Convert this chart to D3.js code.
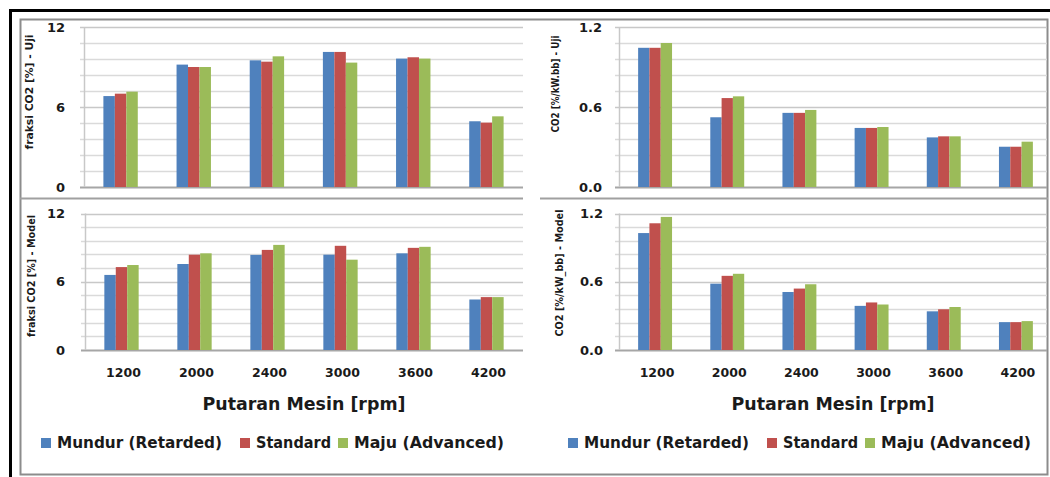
<!DOCTYPE html>
<html>
<head>
<meta charset="utf-8">
<title>CO2 - Putaran Mesin</title>
<script src="https://d3js.org/d3.v7.min.js"></script>
<style>
  body { margin: 0; background: #fff; }
  text { font-family: "DejaVu Sans", sans-serif; font-weight: bold; fill: #1a1a1a; }
</style>
</head>
<body>
<div id="chart"></div>
<script>
// categories + series
var rpm = ["1200", "2000", "2400", "3000", "3600", "4200"];
var seriesNames = ["Mundur (Retarded)", "Standard", "Maju (Advanced)"];
var seriesColors = ["#4f81bd", "#c0504d", "#9bbb59"];

// fraksi CO2 [%] - Uji
var fraksiUjiMundur   = [6.82, 9.18, 9.5, 10.13, 9.63, 4.93];
var fraksiUjiStandard = [7.0, 9.0, 9.4, 10.13, 9.73, 4.83];
var fraksiUjiMaju     = [7.15, 9.0, 9.8, 9.33, 9.63, 5.3];
// fraksi CO2 [%] - Model
var fraksiModelMundur   = [6.6, 7.56, 8.36, 8.38, 8.5, 4.44];
var fraksiModelStandard = [7.29, 8.38, 8.8, 9.16, 8.98, 4.65];
var fraksiModelMaju     = [7.47, 8.5, 9.24, 7.94, 9.07, 4.65];
// CO2 [%/kW.bb] - Uji
var spesUjiMundur   = [1.044, 0.523, 0.556, 0.443, 0.372, 0.302];
var spesUjiStandard = [1.044, 0.667, 0.556, 0.443, 0.38, 0.302];
var spesUjiMaju     = [1.08, 0.68, 0.578, 0.45, 0.38, 0.34];
// CO2 [%/kW_bb] - Model
var spesModelMundur   = [1.028, 0.583, 0.51, 0.388, 0.34, 0.245];
var spesModelStandard = [1.114, 0.652, 0.54, 0.418, 0.358, 0.245];
var spesModelMaju     = [1.17, 0.67, 0.578, 0.4, 0.378, 0.254];

// tick labels
var fraksiTicks = [0, 6, 12];
var spesTicks = [0, 0.6, 1.2];
var xTitle = "Putaran Mesin [rpm]";

var W = 1050, H = 477;
var svg = d3.select("#chart").append("svg")
  .attr("width", W)
  .attr("height", H);

// outer black frame (cut off at right / bottom)
svg.append("path")
  .attr("d", "M10.5,477 L10.5,10.5 L1050,10.5")
  .attr("fill", "none")
  .attr("stroke", "#000")
  .attr("stroke-width", 3);

// grey chart frame
svg.append("rect")
  .attr("x", 20.5).attr("y", 19.5)
  .attr("width", 1027).attr("height", 455)
  .attr("fill", "none")
  .attr("stroke", "#8c8c8c")
  .attr("stroke-width", 2);
svg.append("line").attr("x1", 20).attr("x2", 523).attr("y1", 198.5).attr("y2", 198.5)
  .attr("stroke", "#a0a0a0").attr("stroke-width", 2);
svg.append("line").attr("x1", 540).attr("x2", 1048).attr("y1", 198.5).attr("y2", 198.5)
  .attr("stroke", "#a0a0a0").attr("stroke-width", 2);

var panels = [
  { x0: 84, x1: 523, gridEnd: 523, top: 27, bottom: 187, max: 12, ticks: fraksiTicks, fmt: d3.format("d"),
    tickRight: 65, title: "fraksi CO2 [%] - Uji", titleX: 29, titleY: 92, titleLen: 115,
    data: [fraksiUjiMundur, fraksiUjiStandard, fraksiUjiMaju], showX: false },
  { x0: 619, x1: 1052, gridEnd: 1047, top: 27, bottom: 187, max: 1.2, ticks: spesTicks, fmt: d3.format(".1f"),
    tickRight: 602, title: "CO2 [%/kW.bb] - Uji", titleX: 555, titleY: 84, titleLen: 97,
    data: [spesUjiMundur, spesUjiStandard, spesUjiMaju], showX: false },
  { x0: 85, x1: 523, gridEnd: 523, top: 213.5, bottom: 350, max: 12, ticks: fraksiTicks, fmt: d3.format("d"),
    tickRight: 65, title: "fraksi CO2 [%] - Model", titleX: 31, titleY: 276, titleLen: 122,
    data: [fraksiModelMundur, fraksiModelStandard, fraksiModelMaju], showX: true },
  { x0: 619, x1: 1052, gridEnd: 1047, top: 213.5, bottom: 350, max: 1.2, ticks: spesTicks, fmt: d3.format(".1f"),
    tickRight: 603, title: "CO2 [%/kW_bb] - Model", titleX: 559, titleY: 273, titleLen: 127,
    data: [spesModelMundur, spesModelStandard, spesModelMaju], showX: true }
];

panels.forEach(function(p) {
  var g = svg.append("g");

  var x = d3.scaleBand().domain(rpm).range([p.x0, p.x1]).padding(0);
  var xs = d3.scaleBand().domain(d3.range(seriesNames.length))
    .range([x.bandwidth() * 0.265, x.bandwidth() * 0.735]).padding(0);
  var y = d3.scaleLinear().domain([0, p.max]).range([p.bottom, p.top]);

  // minor gridlines (10 steps) + ticks
  var grid = d3.range(0, 11).map(function(i) { return p.max * i / 10; });
  g.selectAll(".grid").data(grid).enter().append("line")
    .attr("x1", p.x0 - 4).attr("x2", p.gridEnd)
    .attr("y1", function(d) { return Math.round(y(d)) + 0.5; })
    .attr("y2", function(d) { return Math.round(y(d)) + 0.5; })
    .attr("stroke", function(d, i) { return i === 0 ? "#a6a6a6" : (i % 5 === 0 ? "#c8c8c8" : "#dadada"); })
    .attr("stroke-width", function(d, i) { return i === 0 ? 2 : 1.5; });

  // y axis line
  g.append("line")
    .attr("x1", p.x0 + 0.5).attr("x2", p.x0 + 0.5)
    .attr("y1", p.top).attr("y2", p.bottom)
    .attr("stroke", "#c8c8c8").attr("stroke-width", 1.5);

  // bars
  p.data.forEach(function(vals, s) {
    g.selectAll(".bar" + s).data(vals).enter().append("rect")
      .attr("x", function(d, i) { return x(rpm[i]) + xs(s); })
      .attr("y", function(d) { return y(d); })
      .attr("width", xs.bandwidth())
      .attr("height", function(d) { return y(0) - y(d); })
      .attr("fill", seriesColors[s]);
  });

  // y tick labels
  g.selectAll(".ytick").data(p.ticks).enter().append("text")
    .attr("x", p.tickRight)
    .attr("y", function(d) { return y(d); })
    .attr("dy", "0.35em")
    .attr("text-anchor", "end")
    .attr("font-size", 13)
    .text(function(d) { return p.fmt(d); });

  // y axis title
  g.append("text")
    .attr("transform", "translate(" + p.titleX + "," + p.titleY + ") rotate(-90)")
    .attr("text-anchor", "middle")
    .attr("dy", "0.35em")
    .attr("font-size", 10)
    .attr("textLength", p.titleLen)
    .attr("lengthAdjust", "spacingAndGlyphs")
    .text(p.title);

  if (p.showX) {
    g.selectAll(".xtick").data(rpm).enter().append("text")
      .attr("x", function(d) { return x(d) + x.bandwidth() / 2 + 2; })
      .attr("y", 373)
      .attr("dy", "0.35em")
      .attr("text-anchor", "middle")
      .attr("font-size", 12.5)
      .text(function(d) { return d; });

    var xc = (p.x0 + Math.min(p.x1, p.gridEnd)) / 2;
    g.append("text")
      .attr("x", xc)
      .attr("y", 404)
      .attr("dy", "0.35em")
      .attr("text-anchor", "middle")
      .attr("font-size", 17.5)
      .attr("textLength", 203)
      .attr("lengthAdjust", "spacingAndGlyphs")
      .text(xTitle);
  }
});

// legends
var legendStarts = [41, 568];
var legendOffsets = [0, 199, 297];
var legendLens = [165, 75, 150];
legendStarts.forEach(function(lx) {
  var lg = svg.append("g").attr("transform", "translate(" + lx + ",443)");
  seriesNames.forEach(function(name, i) {
    lg.append("rect")
      .attr("x", legendOffsets[i]).attr("y", -5)
      .attr("width", 10).attr("height", 10)
      .attr("fill", seriesColors[i]);
    lg.append("text")
      .attr("x", legendOffsets[i] + 16)
      .attr("y", 0)
      .attr("dy", "0.35em")
      .attr("font-size", 15)
      .attr("textLength", legendLens[i])
      .attr("lengthAdjust", "spacingAndGlyphs")
      .text(name);
  });
});
</script>
</body>
</html>
